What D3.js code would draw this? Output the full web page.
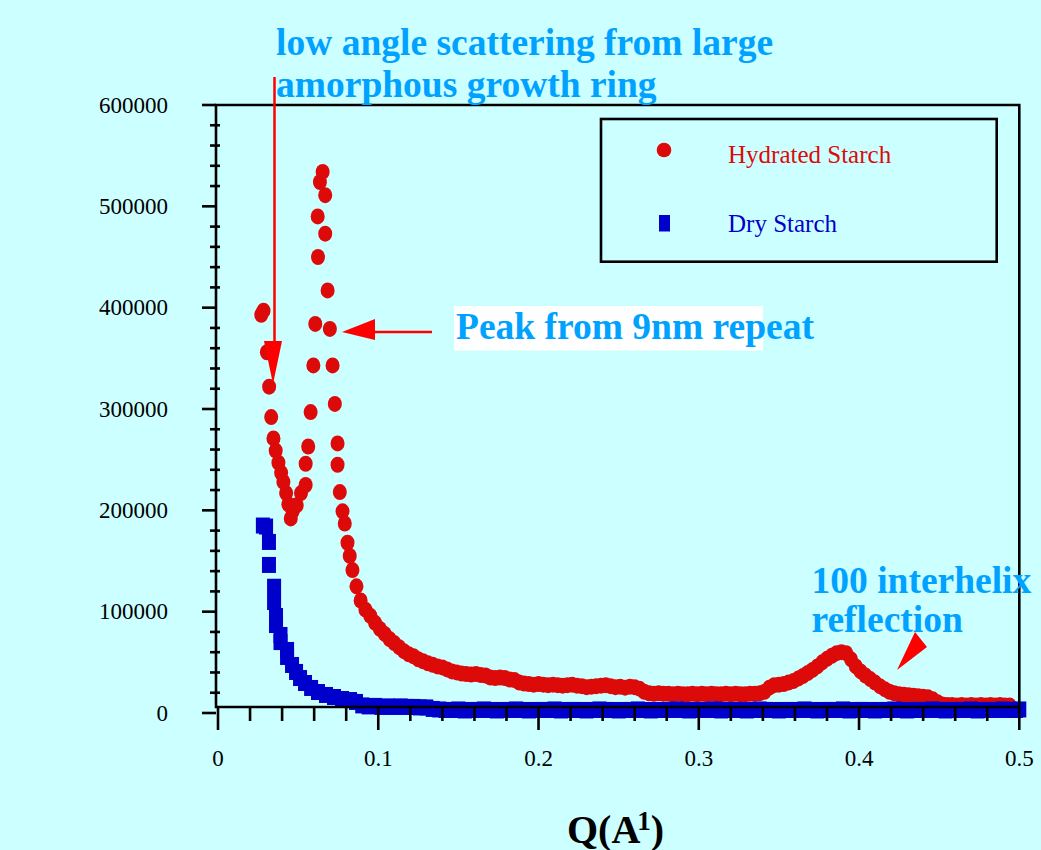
<!DOCTYPE html>
<html>
<head>
<meta charset="utf-8">
<script src="https://cdn.jsdelivr.net/npm/d3@7"></script>
<style>
html,body{margin:0;padding:0;background:#CCFFFF;}
svg{display:block;}
</style>
</head>
<body>
<svg id="chart" width="1041" height="850"></svg>
<script>
// ---------------- data ----------------
const hydratedQ = [
0.0270,0.0284,0.0305,0.0319,0.0332,0.0346,0.0360,0.0377,0.0394,0.0408,0.0425,0.0439,0.0454,0.0466,0.0491,0.0518,
0.0547,0.0547,0.0563,0.0578,0.0595,0.0607,0.0622,0.0624,0.0636,0.0653,0.0669,0.0669,0.0684,0.0698,0.0715,0.0729,
0.0746,0.0746,0.0760,0.0777,0.0791,0.0808,0.0822,0.0839,0.0864,
0.0890,0.0920,0.0950,0.0980,0.1010,0.1040,0.1070,0.1100,0.1130,0.1160,0.1190,0.1220,0.1250,0.1280,0.1310,0.1340,
0.1370,0.1400,0.1430,0.1460,0.1490,0.1520,0.1550,0.1580,0.1610,0.1640,0.1670,0.1700,0.1730,0.1760,0.1790,0.1820,
0.1850,0.1880,0.1910,0.1940,0.1970,0.2000,0.2030,0.2060,0.2090,0.2120,0.2150,0.2180,0.2210,0.2240,0.2270,0.2300,
0.2330,0.2360,0.2390,0.2420,0.2450,0.2480,0.2510,0.2540,0.2570,0.2600,0.2630,0.2660,0.2690,0.2720,0.2750,0.2780,
0.2810,0.2840,0.2870,0.2900,0.2930,0.2960,0.2990,0.3020,0.3050,0.3080,0.3110,0.3140,0.3170,0.3200,0.3230,0.3260,
0.3290,0.3320,0.3350,0.3380,0.3410,0.3440,0.3470,0.3500,0.3530,0.3560,0.3590,0.3620,0.3650,0.3680,0.3710,0.3740,
0.3770,0.3800,0.3830,0.3860,0.3890,0.3920,0.3950,0.3980,0.4010,0.4040,0.4070,0.4100,0.4130,0.4160,0.4190,0.4220,
0.4250,0.4280,0.4310,0.4340,0.4370,0.4400,0.4430,0.4460,0.4490,0.4520,0.4550,0.4580,0.4610,0.4640,0.4670,0.4700,
0.4730,0.4760,0.4790,0.4820,0.4850,0.4880,0.4910,0.4940
];
const hydratedI = [
393000,397000,356000,322000,292000,271000,259000,247000,237000,228000,217000,206000,192000,199000,205000,217000,
225000,246000,263000,297000,343000,384000,490000,450000,524000,534000,511000,473000,417000,379000,343000,305000,
266000,245000,218000,199000,187000,168000,155000,141000,125000,
111000,102000,96000,89000,83000,78000,73000,69000,65000,61000,58000,56000,53000,51000,49000,47500,
46000,45000,43000,41000,40000,39000,38500,38000,38500,37500,37000,35000,34500,35000,34500,33000,
32500,30000,29000,28500,28000,28500,28000,27500,28000,27500,27000,27500,28000,27000,26500,25500,
26000,26500,27000,27500,26500,25500,26000,25000,26000,25500,24000,21000,19500,19000,19500,19000,
19000,18500,19000,18500,18500,19000,18500,19000,18500,19000,18500,18500,19000,18500,19000,18500,
18500,19000,19000,19500,21000,25000,27500,28000,28500,30000,31500,34000,36500,39500,42500,46000,
50000,53500,56500,59000,60000,59000,53000,46000,41000,37000,33500,30000,26500,23500,21000,19500,
18500,18000,17500,17000,16500,16000,15500,13500,10500,8500,8000,8000,7500,8000,7500,8000,
7500,8000,7500,8000,7500,8000,7500,7500
];
const dryQ = [
0.0280,0.0300,0.0318,0.0318,0.0350,0.0350,0.0362,0.0362,0.0390,0.0390,0.0431,0.0431,0.0462,0.0487,0.0512,0.0543,
0.0581,0.0624,0.0674,0.0724,0.0774,0.0824,0.0861,
0.090,0.094,0.098,0.102,0.106,0.110,0.114,0.118,0.122,0.126,0.130,0.134,0.138,0.142,0.146,0.150,
0.154,0.158,0.162,0.166,0.170,0.174,0.178,0.182,0.186,0.190,0.194,0.198,0.202,0.206,0.210,0.214,
0.218,0.222,0.226,0.230,0.234,0.238,0.242,0.246,0.250,0.254,0.258,0.262,0.266,0.270,0.274,0.278,
0.282,0.286,0.290,0.294,0.298,0.302,0.306,0.310,0.314,0.318,0.322,0.326,0.330,0.334,0.338,0.342,
0.346,0.350,0.354,0.358,0.362,0.366,0.370,0.374,0.378,0.382,0.386,0.390,0.394,0.398,0.402,0.406,
0.410,0.414,0.418,0.422,0.426,0.430,0.434,0.438,0.442,0.446,0.450,0.454,0.458,0.462,0.466,0.470,
0.474,0.478,0.482,0.486,0.490,0.494,0.498,0.500
];
const dryI = [
185000,184000,168800,146100,124600,109500,95700,86800,77000,70000,62200,55300,47400,40500,34500,29600,
24700,20700,17800,15800,13800,12800,10900,
7500,6500,7000,6000,6500,6000,6500,6000,6000,5500,5500,4000,3500,3000,3000,3500,
2500,3000,3000,3500,3000,2500,3000,3000,3500,3000,2500,3000,3000,3000,3500,2500,
3000,3000,3000,2500,3000,3500,3000,3000,2500,3000,3000,3500,3000,2500,3000,3000,
3000,3500,3000,2500,3000,3000,3000,3500,2500,3000,3000,3000,2500,3000,3500,3000,
3000,2500,3000,3000,3000,3500,3000,2500,3000,3000,3000,3500,2500,3000,3000,3000,
2500,3000,3000,3500,3000,2500,3000,3000,3000,3500,3000,2500,3000,3000,3000,3500,
2500,3000,3000,3000,3500,3000,3000,3500
];
const xTickValues = [0, 0.1, 0.2, 0.3, 0.4, 0.5];
const xTickLabels = ["0", "0.1", "0.2", "0.3", "0.4", "0.5"];
const yTickValues = [0, 100000, 200000, 300000, 400000, 500000, 600000];
const yTickLabels = ["0", "100000", "200000", "300000", "400000", "500000", "600000"];
const seriesNames = ["Hydrated Starch", "Dry Starch"];
const annotationTop = ["low angle scattering from large", "amorphous growth ring"];
const annotationPeak = "Peak from 9nm repeat";
const annotationHelix = ["100 interhelix", "reflection"];

// ---------------- drawing ----------------
const svg = d3.select("#chart");
const BG = "#CCFFFF", RED = "#DD0A0A", BLUE = "#0000CC", ANN = "#00A2FF", ARROW = "#FF0000";
const serif = "'Liberation Serif','Times New Roman',Times,serif";

svg.append("rect").attr("width", 1041).attr("height", 850).attr("fill", BG);

const x = d3.scaleLinear().domain([0, 0.5]).range([218, 1019.3]);
const y = d3.scaleLinear().domain([0, 600000]).range([713, 105]);

const frame = {left: 216, right: 1019.3, top: 105, bottom: 707};

// data: hydrated (red ellipses)
const hyd = hydratedQ.map((q, i) => ({q, v: hydratedI[i]}));
svg.append("g").selectAll("ellipse").data(hyd).join("ellipse")
  .attr("cx", d => x(d.q)).attr("cy", d => y(d.v))
  .attr("rx", 7).attr("ry", 8).attr("fill", RED);

// data: dry (blue rects)
const dry = dryQ.map((q, i) => ({q, v: dryI[i]}));
svg.append("g").selectAll("rect").data(dry).join("rect")
  .attr("x", d => x(d.q) - 7).attr("y", d => y(d.v) - 8)
  .attr("width", 14).attr("height", 16).attr("fill", BLUE);

// frame
const axG = svg.append("g").attr("stroke", "#000").attr("stroke-width", 2.6).attr("fill", "none");
axG.append("path").attr("d",
  `M${frame.left},${frame.bottom}L${frame.left},${frame.top}L${frame.right},${frame.top}L${frame.right},${frame.bottom}Z`);

// y ticks (major outward, minor crossing)
const yMinor = d3.range(0, 600001, 20000).filter(v => v % 100000 !== 0);
axG.selectAll(".ymaj").data(yTickValues).join("line")
  .attr("x1", 202).attr("x2", frame.left).attr("y1", d => y(d)).attr("y2", d => y(d));
axG.selectAll(".ymin").data(yMinor).join("line")
  .attr("x1", 210).attr("x2", 220).attr("y1", d => y(d)).attr("y2", d => y(d));
// x ticks
const xMinor = d3.range(0, 0.5001, 0.02).filter(v => Math.abs(v * 10 - Math.round(v * 10)) > 1e-6);
axG.selectAll(".xmaj").data(xTickValues).join("line")
  .attr("x1", d => x(d)).attr("x2", d => x(d)).attr("y1", frame.bottom).attr("y2", 730);
axG.selectAll(".xmin").data(xMinor).join("line")
  .attr("x1", d => x(d)).attr("x2", d => x(d)).attr("y1", frame.bottom).attr("y2", 721);

// tick labels
svg.append("g").selectAll("text").data(yTickValues).join("text")
  .attr("x", 168).attr("y", d => y(d) + 7.5).attr("text-anchor", "end")
  .attr("font-family", serif).attr("font-size", 23).attr("fill", "#000")
  .text((d, i) => yTickLabels[i]);
svg.append("g").selectAll("text").data(xTickValues).join("text")
  .attr("x", d => x(d)).attr("y", 766).attr("text-anchor", "middle")
  .attr("font-family", serif).attr("font-size", 23).attr("fill", "#000")
  .text((d, i) => xTickLabels[i]);

// x axis title
const xt = svg.append("text").attr("x", 567).attr("y", 843)
  .attr("font-family", serif).attr("font-size", 40).attr("font-weight", "bold").attr("fill", "#000");
xt.append("tspan").text("Q(A");
xt.append("tspan").attr("dx", -3).attr("dy", -13).attr("font-size", 27).text("1");
xt.append("tspan").attr("dy", 13).text(")");

// legend
const lg = svg.append("g");
lg.append("rect").attr("x", 601).attr("y", 119).attr("width", 395.7).attr("height", 142.7)
  .attr("fill", "none").attr("stroke", "#000").attr("stroke-width", 2.6);
lg.append("circle").attr("cx", 664).attr("cy", 150).attr("r", 7.3).attr("fill", RED);
lg.append("rect").attr("x", 659).attr("y", 215).attr("width", 11).attr("height", 16.5).attr("fill", BLUE);
lg.append("text").attr("x", 728).attr("y", 163).attr("font-family", serif).attr("font-size", 25)
  .attr("fill", RED).text(seriesNames[0]);
lg.append("text").attr("x", 728).attr("y", 231.5).attr("font-family", serif).attr("font-size", 25)
  .attr("fill", BLUE).text(seriesNames[1]);

// annotations
const annStyle = sel => sel.attr("font-family", serif).attr("font-size", 37.5)
  .attr("font-weight", "bold").attr("fill", ANN);
annStyle(svg.append("text").attr("x", 276).attr("y", 54.5).text(annotationTop[0]));
annStyle(svg.append("text").attr("x", 276).attr("y", 96.5).text(annotationTop[1]));

// vertical arrow
svg.append("line").attr("x1", 274.5).attr("x2", 274.5).attr("y1", 77).attr("y2", 342)
  .attr("stroke", ARROW).attr("stroke-width", 2.5);
svg.append("path").attr("d", "M264,341L282,341L273,384Z").attr("fill", ARROW);

// horizontal arrow
svg.append("line").attr("x1", 374).attr("x2", 432).attr("y1", 332).attr("y2", 332)
  .attr("stroke", ARROW).attr("stroke-width", 2.7);
svg.append("path").attr("d", "M342,332L375,319L375,340Z").attr("fill", ARROW);

// peak label with white box
svg.append("rect").attr("x", 454).attr("y", 306).attr("width", 309).attr("height", 44.5).attr("fill", "#fff");
annStyle(svg.append("text").attr("x", 456).attr("y", 338.5).text(annotationPeak));

// interhelix label
annStyle(svg.append("text").attr("x", 811.5).attr("y", 593).text(annotationHelix[0]));
annStyle(svg.append("text").attr("x", 811.5).attr("y", 632).text(annotationHelix[1]));
svg.append("path").attr("d", "M897,670L915,632L927,647Z").attr("fill", ARROW);
</script>
</body>
</html>
